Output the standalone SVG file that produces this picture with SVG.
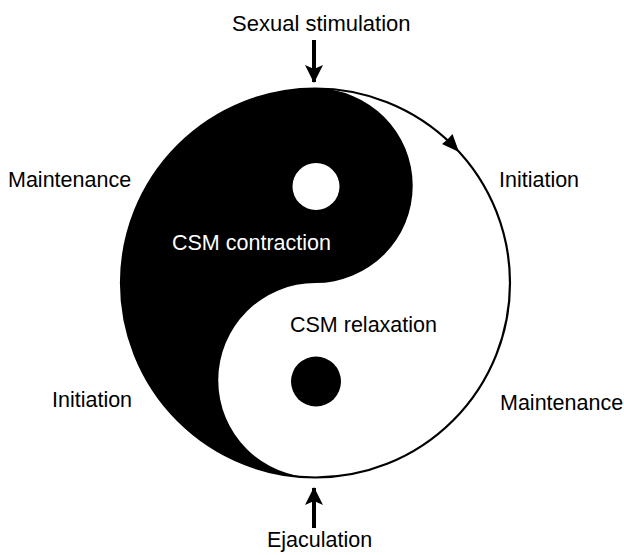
<svg xmlns="http://www.w3.org/2000/svg" width="624" height="555" viewBox="0 0 624 555">
<style>
text{font-family:"Liberation Sans",Arial,sans-serif;font-size:21.5px;fill:#000}
.w{fill:#fff}
.shaft{stroke:#000;stroke-width:4;fill:none}
</style>
<defs>
<marker id="ah" viewBox="0 0 18 18" refX="17" refY="9" markerWidth="18" markerHeight="18" markerUnits="userSpaceOnUse" orient="auto">
<path d="M0,0 L18,9 L0,18 L4,9 Z" fill="#000"/>
</marker>
</defs>
<rect width="624" height="555" fill="#fff"/>
<g id="yinyang">
<circle cx="315.5" cy="283" r="194.5" fill="#fff" stroke="#000" stroke-width="2.2"/>
<path d="M315.5,88.5 A194.5,194.5 0 0 0 315.5,477.5 A97.25,97.25 0 0 1 315.5,283 A97.25,97.25 0 0 0 315.5,88.5 Z" fill="#000"/>
<circle cx="316" cy="186.5" r="23.5" fill="#fff"/>
<circle cx="316" cy="381.5" r="25" fill="#000"/>
</g>
<g id="csm-contraction"><text class="w" x="172" y="250" style="fill:#fff">CSM contraction</text></g>
<g id="csm-relaxation"><text x="290" y="332">CSM relaxation</text></g>
<g id="sexual-stimulation"><text x="232" y="31" font-size="22" style="font-size:22px">Sexual stimulation</text></g>
<g id="ejaculation"><text x="267" y="547">Ejaculation</text></g>
<g id="maintenance-left"><text x="8" y="187">Maintenance</text></g>
<g id="initiation-left"><text x="52" y="407">Initiation</text></g>
<g id="initiation-right"><text x="499" y="187">Initiation</text></g>
<g id="maintenance-right"><text x="500" y="410">Maintenance</text></g>
<g id="connectors">
<line class="shaft" x1="314" y1="40" x2="314" y2="82" marker-end="url(#ah)"/>
<line class="shaft" x1="314" y1="528" x2="314" y2="488" marker-end="url(#ah)"/>
<path d="M459,152 L442,144 L447.5,139.5 L452.5,134 Z" fill="#000"/>
</g>
</svg>
